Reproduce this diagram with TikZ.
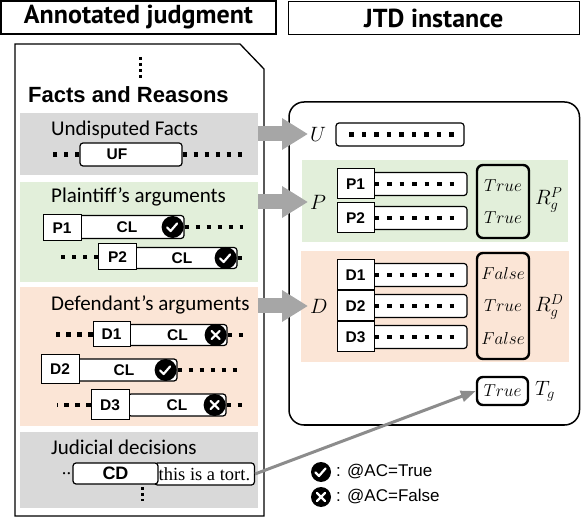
\documentclass[tikz,border=0pt]{standalone}
\usepackage{fontspec}
\setmainfont{Liberation Sans}
\newfontfamily\headfont{PT Sans}
\newfontfamily\calfont{Carlito}
\newfontfamily\serfont{Liberation Serif}
\usetikzlibrary{arrows.meta}
\definecolor{grayband}{HTML}{D9D9D9}
\definecolor{greenband}{HTML}{E2EFDA}
\definecolor{orangeband}{HTML}{FBE5D6}
\definecolor{arrowgray}{HTML}{A6A6A6}
\definecolor{linegray}{HTML}{8C8C8C}
\begin{document}
\begin{tikzpicture}[x=1pt,y=-1pt,
  title/.style={draw,line width=1.3pt,minimum height=33pt,inner sep=0pt,font=\headfont\bfseries\fontsize{26}{26}\selectfont},
  band/.style={anchor=north west,inner sep=0pt,minimum width=238pt},
  hdr/.style={anchor=west,inner sep=0pt,font=\calfont\fontsize{21}{22}\selectfont},
  lbl/.style={draw,fill=white,line width=1pt,minimum width=38pt,inner sep=0pt,font=\bfseries\fontsize{15.5}{15.5}\selectfont},
  claim/.style={draw,fill=white,rounded corners=3pt,line width=1.2pt,minimum height=23pt,inner sep=0pt,font=\bfseries\fontsize{15.5}{15.5}\selectfont},
  slot/.style={draw,fill=white,rounded corners=3pt,line width=1.2pt,minimum height=23pt,inner sep=0pt},
  ok/.style={circle,fill=black,minimum size=22pt,inner sep=0pt,path picture={\draw[white,line width=2.2pt,line cap=round,line join=round] ([shift={(-5.5,0.5)}]path picture bounding box.center) -- ++(3.5,3.5) -- ++(6.5,-7.5);}},
  ng/.style={circle,fill=black,minimum size=22pt,inner sep=0pt,path picture={\draw[white,line width=2.2pt,line cap=round] ([shift={(-4,-4)}]path picture bounding box.center) -- ++(8,8) ([shift={(4,-4)}]path picture bounding box.center) -- ++(-8,8);}},
  dots/.style={line width=4.5pt,dash pattern=on 4.5pt off 6.5pt},
  rdots/.style={line width=4.5pt,dash pattern=on 4.5pt off 8pt},
  vdots/.style={line width=3pt,dash pattern=on 3pt off 3pt},
  var/.style={anchor=west,inner sep=2pt,font=\fontsize{21}{21}\selectfont},
  bool/.style={draw,rounded corners=6pt,line width=2.4pt,inner sep=0pt,minimum width=52pt,align=center},
  bigarr/.style={draw=arrowgray,line width=15pt,-{Triangle[length=26pt,width=30pt,fill=arrowgray]}},
  thinarr/.style={draw=linegray,line width=3pt,-{Triangle[length=15pt,width=11pt,fill=linegray]}}]
\useasboundingbox (0,0) rectangle (581,518);

% headings
\node[title,minimum width=275pt] (tleft) at (138.5,17.5) {Annotated judgment};
\node[title,minimum width=291pt] (tright) at (433.8,18) {JTD instance};

% annotated judgment
\draw[line width=1.3pt,fill=white] (15,44) -- (240,44) -- (264,69) -- (264,516) -- (15,516) -- cycle;
\draw[vdots] (140,57) -- ++(0,22);
\node[anchor=west,inner sep=0pt,font=\bfseries\fontsize{22}{22}\selectfont] (fr) at (28,95) {Facts and Reasons};

\node[band,fill=grayband,minimum height=62pt] (bandU) at (20,113) {};
\node[band,fill=greenband,minimum height=100pt] (bandP) at (20,182) {};
\node[band,fill=orangeband,minimum height=139pt] (bandD) at (20,287) {};
\node[band,fill=grayband,minimum height=76pt] (bandJ) at (20,432) {};

\node[hdr] (hU) at (51,130) {Undisputed Facts};
\node[hdr] (hP) at (51,197) {Plaintiff’s arguments};
\node[hdr] (hD) at (51,305) {Defendant’s arguments};
\node[hdr] (hJ) at (51,447) {Judicial decisions};

% UF
\node[claim,minimum width=102pt] (UF) at (131,154.5) {UF\hspace*{28pt}};
\draw[dots] (UF.west) -- ++(-26,0);
\draw[dots] (UF.east) -- ++(60,0);

% plaintiff
\node[claim,minimum width=114pt] (c1) at (127,227) {CL};
\node[lbl,minimum height=26pt] (P1) at (62,228) {P1};
\node[ok] (k1) at ([xshift=-12pt]c1.east) {};
\draw[dots] (c1.east) -- ++(58,0);

\node[claim,minimum width=110pt,minimum height=21pt] (c2) at (182,258) {CL};
\node[lbl,minimum height=26pt] (P2) at (117.5,257) {P2};
\node[ok] (k2) at ([xshift=-12pt]c2.east) {};
\draw[dots] (P2.west) -- ++(-44,0);
\draw[dots] (c2.east) -- ++(6,0);

% defendant
\node[claim,minimum width=99pt,minimum height=21pt] (c3) at (177.5,335) {CL};
\node[lbl,minimum width=37pt,minimum height=25pt] (D1) at (111.5,334.5) {D1};
\node[ng] (k3) at ([xshift=-12pt]c3.east) {};
\draw[dots] (D1.west) -- ++(-37,0);
\draw[dots] (c3.east) -- ++(15,0);

\node[claim,minimum width=106pt,minimum height=22pt] (c4) at (124,370) {CL};
\node[lbl,minimum height=29pt] (D2) at (60,369.5) {D2};
\node[ok] (k4) at ([xshift=-12pt]c4.east) {};
\draw[dots] (c4.east) -- ++(65,0);

\node[claim,minimum width=98pt,minimum height=22pt] (c5) at (177,405) {CL};
\node[lbl,minimum height=30pt] (D3) at (110,405) {D3};
\node[ng] (k5) at ([xshift=-12pt]c5.east) {};
\draw[dots] (D3.west) -- ++(-34,0);
\draw[dots] (c5.east) -- ++(16,0);

% judicial decisions
\node[claim,font=\serfont\fontsize{18.5}{18.5}\selectfont,minimum width=100pt,minimum height=22pt,anchor=east] (tort) at (255,474) {this is a tort.};
\node[claim,font=\bfseries\fontsize{18}{18}\selectfont,minimum width=85pt,minimum height=21pt] (CD) at (115.5,473.5) {CD};
\node[anchor=east,inner sep=1pt,font=\serfont\fontsize{18.5}{18.5}\selectfont] (ell) at (CD.west) {..};
\draw[vdots] (142,487) -- ++(0,14);

% JTD instance
\draw[line width=1.5pt,rounded corners=15pt] (289,102) rectangle (579.5,425);
\node[band,fill=greenband,minimum width=266pt,minimum height=82pt] (bandRP) at (302,160) {};
\node[band,fill=orangeband,minimum width=268pt,minimum height=111pt] (bandRD) at (301,251) {};

\node[var] (U) at (308,134) {$U$};
\node[var] (P) at (308,202) {$P$};
\node[var] (D) at (308,306) {$D$};

\node[slot,minimum width=128pt] (Ubox) at (400,134.5) {};
\draw[rdots] ([xshift=14pt]Ubox.west) -- ([xshift=-10pt]Ubox.east);

\foreach \n/\y in {P1/184,P2/218,D1/275,D2/306,D3/337}{
  \node[slot,minimum width=97pt] (s\n) at (418.5,\y) {};
  \node[lbl,minimum width=37pt,minimum height=30pt] (r\n) at (355.5,\y) {\n};
  \draw[rdots] (r\n.east) -- ([xshift=-14pt]s\n.east);
}

\node[bool,minimum height=73pt,font=\fontsize{17.5}{32}\selectfont] (RP) at (503,201.5) {$True$\\$True$};
\node[bool,minimum height=106pt,font=\fontsize{17.5}{33}\selectfont] (RD) at (503,306) {$False$\\$True$\\$False$};
\node[bool,minimum width=51pt,minimum height=28pt,font=\fontsize{17.5}{17.5}\selectfont] (Tg) at (502.5,391) {$True$};

\node[var] (RgP) at (533,200) {$R_g^P$};
\node[var] (RgD) at (533,307) {$R_g^D$};
\node[var] (TgL) at (533,391) {$T_g$};

% legend
\node[ok,minimum size=20pt] (okkey) at (321,472) {};
\node[ng,minimum size=20pt] (ngkey) at (321,497) {};
\node[anchor=west,inner sep=0pt,font=\fontsize{17}{17}\selectfont] (okt) at (336,472) {: @AC=True};
\node[anchor=west,inner sep=0pt,font=\fontsize{17}{17}\selectfont] (ngt) at (336,497) {: @AC=False};

% connectors
\draw[bigarr] (bandU.east |- U.west) -- (U.west);
\draw[bigarr] (bandP.east |- P.west) -- (P.west);
\draw[bigarr] (bandD.east |- D.west) -- (D.west);
\draw[thinarr] (tort.east) -- (Tg.west);
\end{tikzpicture}
\end{document}
